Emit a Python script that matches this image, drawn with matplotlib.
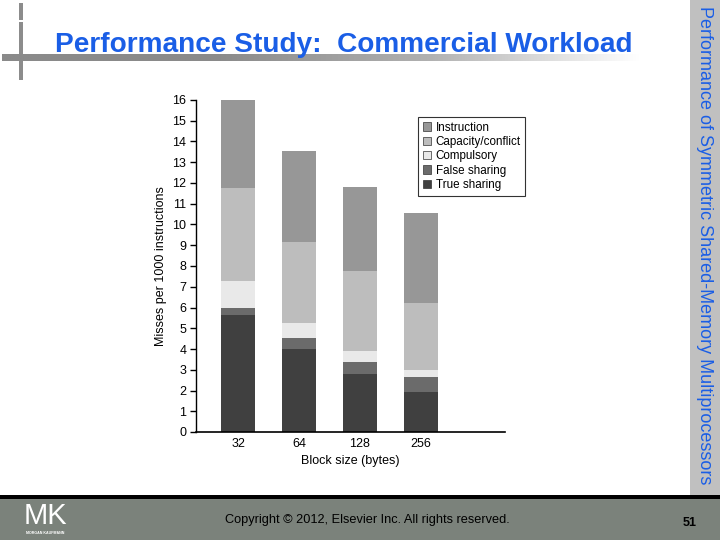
import numpy as np
import matplotlib
matplotlib.use("Agg")
import matplotlib.pyplot as plt
from matplotlib.patches import Rectangle
from matplotlib.colors import LinearSegmentedColormap

plt.rcParams['font.family'] = ['Liberation Sans', 'DejaVu Sans']

block_sizes = ["32", "64", "128", "256"]
series_names = ["True sharing", "False sharing", "Compulsory", "Capacity/conflict", "Instruction"]
true_sharing = [5.65, 4.02, 2.81, 1.94]
false_sharing = [0.35, 0.53, 0.58, 0.73]
compulsory = [1.29, 0.72, 0.53, 0.33]
capacity_conflict = [4.49, 3.90, 3.86, 3.23]
instruction = [4.22, 4.39, 4.04, 4.34]
series_colors = ["#404040", "#6b6b6b", "#e9e9e9", "#bdbdbd", "#979797"]

fig = plt.figure(figsize=(7.2, 5.4), dpi=100)

# slide background decorations (pixel coordinates)
bg = fig.add_axes([0, 0, 1, 1], zorder=0)
bg.axis("off")
bg.add_patch(Rectangle((0, 498), 720, 42, color="#7b827b", lw=0))
bg.add_patch(Rectangle((0, 495), 720, 3.5, color="#000000", lw=0))
bg.add_patch(Rectangle((690, 0), 30, 495, color="#c0c0c0", lw=0))
bg.add_patch(Rectangle((19, 3), 3.5, 17, color="#8c8c8c", lw=0))
bg.add_patch(Rectangle((19, 22), 3.5, 58, color="#8c8c8c", lw=0))
grad = np.linspace(0, 1, 256)[None, :]
cmap = LinearSegmentedColormap.from_list("g", ["#8a8a8a", "#8a8a8a", "#b0b0b0", "#ffffff"])
bg.imshow(grad, extent=(2, 640, 61, 54), cmap=cmap, aspect="auto", zorder=1)
bg.set_xlim(0, 720)
bg.set_ylim(540, 0)

fig.text(55 / 720, 1 - 45 / 540, "Performance Study:  Commercial Workload",
         fontsize=20.2, fontweight="bold", color="#1a5ee6", va="center", ha="left")
fig.text(705 / 720, 1 - 245 / 540, "Performance of Symmetric Shared-Memory Multiprocessors",
         fontsize=13, color="#1a5ee6", rotation=-90, va="center", ha="center")
fig.text(367 / 720, 1 - 520 / 540, "Copyright © 2012, Elsevier Inc. All rights reserved.",
         fontsize=9.2, color="#000000", va="center", ha="center")
fig.text(690 / 720, 1 - 523 / 540, "51", fontsize=9, fontweight="bold",
         color="#000000", va="center", ha="center")
fig.text(45 / 720, 1 - 516 / 540, "MK", fontsize=21, color="#ffffff",
         va="center", ha="center")
fig.text(45 / 720, 1 - 533 / 540, "MORGAN KAUFMANN", fontsize=2.6, color="#ffffff",
         va="center", ha="center", fontweight="bold")

# chart
ax = fig.add_axes([196 / 720, 108 / 540, 309 / 720, 332 / 540], zorder=2)
x = np.arange(len(block_sizes))
bottom = np.zeros(len(block_sizes))
handles = []
for name, vals, col in zip(series_names,
                           [true_sharing, false_sharing, compulsory, capacity_conflict, instruction],
                           series_colors):
    h = ax.bar(x, vals, width=0.56, bottom=bottom, color=col, linewidth=0, label=name)
    handles.append(h)
    bottom += np.array(vals)

ax.set_xlim(-0.69, 4.38)
ax.set_ylim(0, 16)
ax.set_yticks(range(0, 17))
ax.set_xticks(x)
ax.set_xticklabels(block_sizes)
ax.spines["top"].set_visible(False)
ax.spines["right"].set_visible(False)
ax.spines["left"].set_linewidth(1.0)
ax.spines["bottom"].set_linewidth(1.2)
ax.tick_params(axis="y", length=4, width=1, labelsize=9, pad=3)
ax.tick_params(axis="x", length=0, labelsize=9, pad=4)
ax.set_ylabel("Misses per 1000 instructions", fontsize=9, labelpad=4)
ax.set_xlabel("Block size (bytes)", fontsize=9, labelpad=4)

leg = ax.legend(handles[::-1], series_names[::-1], loc="upper left",
                bbox_to_anchor=((418 - 196) / 309, (432 - 117) / 332),
                fontsize=8.4, frameon=True, fancybox=False, edgecolor="#000000",
                handlelength=0.7, handleheight=0.7, handletextpad=0.4,
                borderpad=0.4, labelspacing=0.2, borderaxespad=0)
leg.get_frame().set_linewidth(0.8)
for p in leg.get_patches():
    p.set_edgecolor("#333333")
    p.set_linewidth(0.5)

fig.savefig("out.png", dpi=100)
